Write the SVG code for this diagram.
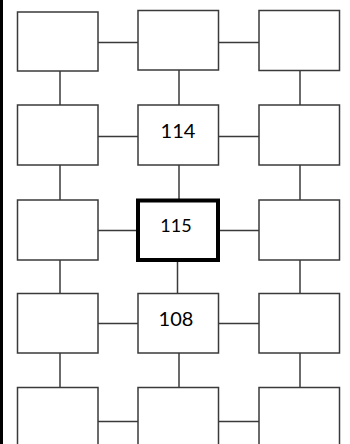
<svg xmlns="http://www.w3.org/2000/svg" width="350" height="444" viewBox="0 0 350 444">
<style>
.box{fill:#fff;stroke:#3a3a3a;stroke-width:1.5}
.sel{fill:#fff;stroke:#000;stroke-width:4}
.c{stroke:#3a3a3a;stroke-width:1.5;fill:none}
.t{font-family:Lato,"Liberation Sans",sans-serif;font-size:20px;fill:#000;text-anchor:middle}
</style>
<rect x="0" y="0" width="350" height="444" fill="#fff"/>
<rect x="0" y="0" width="3" height="444" fill="#000"/>
<g id="connectors">
<line class="c" x1="98" y1="42.5" x2="138" y2="42.5"/>
<line class="c" x1="218" y1="42.5" x2="259" y2="42.5"/>
<line class="c" x1="98" y1="136.5" x2="138" y2="136.5"/>
<line class="c" x1="218" y1="136.5" x2="259" y2="136.5"/>
<line class="c" x1="98" y1="230.5" x2="138" y2="230.5"/>
<line class="c" x1="218" y1="230.5" x2="259" y2="230.5"/>
<line class="c" x1="98" y1="323.5" x2="138" y2="323.5"/>
<line class="c" x1="218" y1="323.5" x2="259" y2="323.5"/>
<line class="c" x1="98" y1="421.5" x2="138" y2="421.5"/>
<line class="c" x1="218" y1="421.5" x2="259" y2="421.5"/>
<line class="c" x1="60" y1="71" x2="60" y2="105"/>
<line class="c" x1="179" y1="70" x2="179" y2="105"/>
<line class="c" x1="300" y1="70.5" x2="300" y2="105"/>
<line class="c" x1="60" y1="165" x2="60" y2="200"/>
<line class="c" x1="179" y1="165" x2="179" y2="200"/>
<line class="c" x1="300" y1="165" x2="300" y2="200"/>
<line class="c" x1="60" y1="260" x2="60" y2="293.5"/>
<line class="c" x1="177.5" y1="260" x2="177.5" y2="293.5"/>
<line class="c" x1="300" y1="260" x2="300" y2="293.5"/>
<line class="c" x1="60" y1="353" x2="60" y2="387.5"/>
<line class="c" x1="179" y1="353" x2="179" y2="387.5"/>
<line class="c" x1="300" y1="353" x2="300" y2="387.5"/>
</g>
<g id="n11"><rect class="box" x="17.5" y="12" width="80.5" height="59"/></g>
<g id="n12"><rect class="box" x="138" y="10.5" width="80.5" height="59.5"/></g>
<g id="n13"><rect class="box" x="259" y="10.5" width="80.5" height="60"/></g>
<g id="n21"><rect class="box" x="17.5" y="105" width="80.5" height="60"/></g>
<g id="n22"><rect class="box" x="138" y="105" width="80.5" height="60"/><text class="t" x="178" y="137.5">114</text></g>
<g id="n23"><rect class="box" x="259" y="105" width="80.5" height="60"/></g>
<g id="n31"><rect class="box" x="17.5" y="200" width="80.5" height="60"/></g>
<g id="n32"><rect class="sel" x="138" y="200.5" width="80" height="59.5"/><text class="t" x="176" y="232" style="font-size:18px">115</text></g>
<g id="n33"><rect class="box" x="259" y="200" width="80.5" height="60"/></g>
<g id="n41"><rect class="box" x="17.5" y="293.5" width="80.5" height="59.5"/></g>
<g id="n42"><rect class="box" x="138" y="293.5" width="80.5" height="59.5"/><text class="t" x="176" y="325.5">108</text></g>
<g id="n43"><rect class="box" x="259" y="293.5" width="80.5" height="59.5"/></g>
<g id="n51"><rect class="box" x="17.5" y="387.5" width="80.5" height="70"/></g>
<g id="n52"><rect class="box" x="138" y="387.5" width="80.5" height="70"/></g>
<g id="n53"><rect class="box" x="259" y="387.5" width="80.5" height="70"/></g>
</svg>
